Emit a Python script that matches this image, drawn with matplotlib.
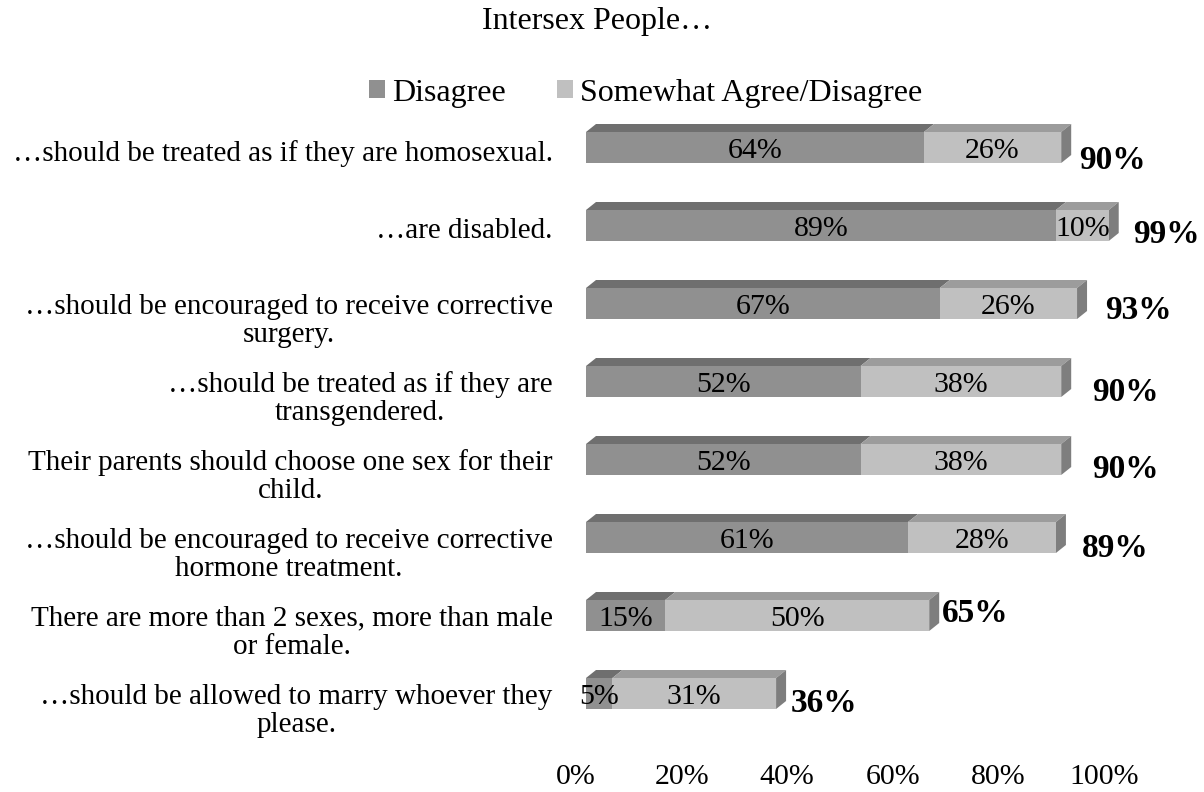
import matplotlib
matplotlib.use("Agg")
import matplotlib.pyplot as plt
from matplotlib.patches import Polygon, Patch
from matplotlib.transforms import ScaledTranslation

plt.rcParams["font.family"] = ["Liberation Serif", "DejaVu Serif"]

# Survey statements, top to bottom
categories = [
    "\u2026should be treated as if they are homosexual.",
    "\u2026are disabled.",
    "\u2026should be encouraged to receive corrective\nsurgery.",
    "\u2026should be treated as if they are\ntransgendered.",
    "Their parents should choose one sex for their\nchild.",
    "\u2026should be encouraged to receive corrective\nhormone treatment.",
    "There are more than 2 sexes, more than male\nor female.",
    "\u2026should be allowed to marry whoever they\nplease.",
]
disagree = [64, 89, 67, 52, 52, 61, 15, 5]
somewhat = [26, 10, 26, 38, 38, 28, 50, 31]
totals = [90, 99, 93, 90, 90, 89, 65, 36]
tick_values = [0, 20, 40, 60, 80, 100]
series_names = ["Disagree", "Somewhat Agree/Disagree"]

# colours: front face, top face for each series; side face of the bar end
front = ["#909090", "#c0c0c0"]
top = ["#6f6f6f", "#9c9c9c"]
side = "#7e7e7e"

# nudges (px) for the bold total labels, as placed by the spreadsheet
total_dx_px = [8, 14, 18, 21, 21, 16, 3, 5]
total_dy_px = [13, 9, 7, 11, 10, 11, -2, 10]

W, H, DPI = 1204, 792, 100
fig = plt.figure(figsize=(W / DPI, H / DPI), dpi=DPI)

# plot area in pixels: x 0..100 -> 586..1114, rows 78 px apart
x0_px, x1_px = 586, 1114
row_px = 78
top_px = 147.5 - row_px / 2
n = len(categories)
ax = fig.add_axes([x0_px / W, 1 - (top_px + n * row_px) / H,
                   (x1_px - x0_px) / W, n * row_px / H])
ax.set_xlim(0, 100)
ax.set_ylim(n - 0.5, -0.5)

px_x = 100 / (x1_px - x0_px)
px_y = 1 / row_px
bar_h = 31 * px_y
dx, dy = 10 * px_x, 8 * px_y

ypos = list(range(n))
ax.barh(ypos, disagree, height=bar_h, color=front[0], linewidth=0, zorder=2)
ax.barh(ypos, somewhat, left=disagree, height=bar_h, color=front[1],
        linewidth=0, zorder=2)

# 3-D top faces and the side face on the bar end
for i in range(n):
    yt = i - bar_h / 2
    yb = i + bar_h / 2
    segs = [(0, disagree[i]), (disagree[i], disagree[i] + somewhat[i])]
    for k, (a, b) in enumerate(segs):
        ax.add_patch(Polygon([(a, yt), (b, yt), (b + dx, yt - dy), (a + dx, yt - dy)],
                             closed=True, facecolor=top[k], edgecolor="none",
                             zorder=1, clip_on=False))
    e = segs[1][1]
    ax.add_patch(Polygon([(e, yt), (e + dx, yt - dy), (e + dx, yb - dy), (e, yb)],
                         closed=True, facecolor=side, edgecolor="none",
                         zorder=1, clip_on=False))

fs_bar = 21.5
fs_total = 24
lab_dy = 4 * px_y
for i in range(n):
    ax.text(disagree[i] / 2, i + lab_dy, f"{disagree[i]}%", ha="center", va="center",
            fontsize=fs_bar, zorder=3, clip_on=False)
    ax.text(disagree[i] + somewhat[i] / 2, i + lab_dy, f"{somewhat[i]}%", ha="center",
            va="center", fontsize=fs_bar, zorder=3)
    ax.text(totals[i] + dx + total_dx_px[i] * px_x, i + total_dy_px[i] * px_y,
            f"{totals[i]}%", ha="left", va="center", fontsize=fs_total,
            fontweight="bold", clip_on=False)

# statement labels, right aligned with centred lines
ax.set_yticks(ypos)
ax.set_yticklabels(categories, fontsize=21, multialignment="center", linespacing=1.1)
ax.tick_params(axis="y", length=0, pad=24)
for lab in ax.get_yticklabels():
    shift = 13 if "\n" in lab.get_text() else 3
    lab.set_transform(lab.get_transform() + ScaledTranslation(0, -shift / DPI, fig.dpi_scale_trans))

ax.set_xticks(tick_values)
ax.set_xticklabels([f"{v}%" for v in tick_values], fontsize=21.5)
ax.tick_params(axis="x", length=0, pad=23)
for lab in ax.get_xticklabels():
    lab.set_transform(lab.get_transform() + ScaledTranslation(-10 / DPI, 0, fig.dpi_scale_trans))

for s in ax.spines.values():
    s.set_visible(False)

fig.text(597 / W, 1 - 22 / H, "Intersex People\u2026", ha="center", va="center", fontsize=23)

handles = [Patch(facecolor=front[0]), Patch(facecolor=front[1])]
fig.legend(handles, series_names, loc="center", bbox_to_anchor=(646 / W, 1 - 93 / H),
           ncol=2, frameon=False, fontsize=23, handlelength=0.5, handleheight=0.5,
           handletextpad=0.22, columnspacing=1.6, borderpad=0, borderaxespad=0)

fig.savefig("out.png", dpi=DPI, facecolor="white")
